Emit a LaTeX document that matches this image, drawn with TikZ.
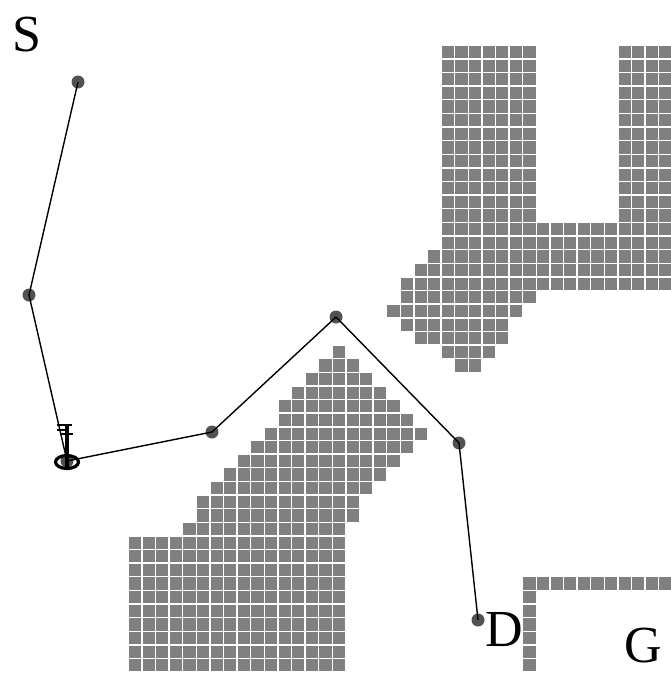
\documentclass[tikz,border=0pt]{standalone}
\usepackage{fontspec}
\setmainfont{Liberation Serif}
\tikzset{
  obstcell/.style = {rectangle, fill=black!50, inner sep=0pt, minimum size=12.2pt},
  waypoint/.style = {circle, fill=black!68, inner sep=0pt, minimum size=13pt},
  place/.style = {inner sep=0pt, font=\fontsize{52}{52}\selectfont},
  route/.style = {black, line width=1.4pt},
  keypart/.style = {black, line width=2.4pt}
}
\begin{document}
\begin{tikzpicture}[x=1pt,y=-1pt]
\useasboundingbox (0,0) rectangle (670,675);
% obstacles: row / first column / last column
\foreach \r/\a/\b in {0/23/29,1/23/29,2/23/29,3/23/29,4/23/29,5/23/29,6/23/29,
    7/23/29,8/23/29,9/23/29,10/23/29,11/23/29,12/23/29,
    0/36/39,1/36/39,2/36/39,3/36/39,4/36/39,5/36/39,6/36/39,
    7/36/39,8/36/39,9/36/39,10/36/39,11/36/39,12/36/39,
    13/23/39,14/23/39,15/22/39,16/21/39,17/20/39,18/20/29,19/19/28,
    20/20/27,21/21/27,22/23/26,23/24/25,
    22/15/15,23/14/16,24/13/17,25/12/18,26/11/19,27/11/20,28/10/21,29/9/20,
    30/8/19,31/7/18,32/6/17,33/5/16,34/5/16,35/4/15,
    36/0/15,37/0/15,38/0/15,39/0/15,40/0/15,41/0/15,42/0/15,43/0/15,44/0/15,45/0/15,
    39/29/39,40/29/29,41/29/29,42/29/29,43/29/29,44/29/29,45/29/29}
  \foreach \k in {\a,...,\b}
    \node [obstcell] (cell-\r-\k) at ({135+13.6*\k},{52+13.63*\r}) {};
% waypoints
\node [waypoint] (w1) at (78,82) {};
\node [waypoint] (w2) at (29,295) {};
\node [waypoint] (w3) at (67,461) {};
\node [waypoint] (w4) at (212,432) {};
\node [waypoint] (w5) at (336,317) {};
\node [waypoint] (w6) at (459,443) {};
\node [waypoint] (w7) at (478,620) {};
\draw [route] (w1.center) -- (w2.center) -- (w3.center) -- (w4.center)
  -- (w5.center) -- (w6.center) -- (w7.center);
% key
\draw [black, line width=3.2pt] (67,462) ellipse (11.5pt and 6.5pt);
\draw [black, line width=4pt] (67,424) -- (67,469);
\draw [keypart] (57,425) -- (72,425);
\draw [keypart] (57,430) -- (67,430);
\draw [keypart] (60,434) -- (73,434);
% labels
\node [place] (lblS) at (27,35) {S};
\node [place] (lblD) at (504,630) {D};
\node [place] (lblG) at (643,646) {G};
\end{tikzpicture}
\end{document}
